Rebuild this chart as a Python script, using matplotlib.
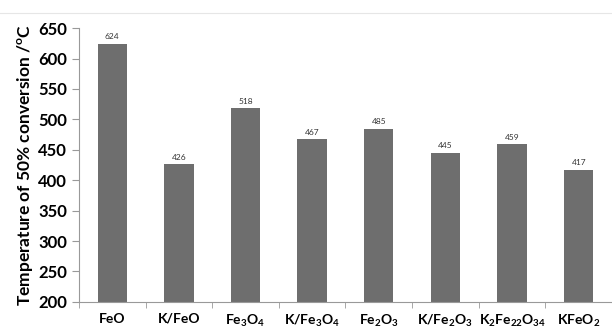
import numpy as np
import matplotlib
matplotlib.use('Agg')
import matplotlib.pyplot as plt
from matplotlib.ticker import FixedLocator
from matplotlib.lines import Line2D

plt.rcParams['font.family'] = ['Lato', 'DejaVu Sans']
plt.rcParams['mathtext.fontset'] = 'custom'
plt.rcParams['mathtext.rm'] = 'Lato:bold'
plt.rcParams['mathtext.it'] = 'Lato:bold'
plt.rcParams['mathtext.bf'] = 'Lato:bold'

catalysts = ['FeO', 'K/FeO', r'Fe$_3$O$_4$', r'K/Fe$_3$O$_4$', r'Fe$_2$O$_3$',
             r'K/Fe$_2$O$_3$', r'K$_2$Fe$_{22}$O$_{34}$', r'KFeO$_2$']
temps = [624, 426, 518, 467, 485, 445, 459, 417]
yticks = [200, 250, 300, 350, 400, 450, 500, 550, 600, 650]

fig = plt.figure(figsize=(6.12, 3.31), dpi=100)
ax = fig.add_axes([0.129, 0.088, 0.871, 0.827])

x = np.arange(len(catalysts))
ax.bar(x, temps, width=0.44, color='#6e6e6e', zorder=2)
for xi, t in zip(x, temps):
    ax.text(xi, t + 6, str(t), ha='center', va='bottom', fontsize=6, color='#333333')

ax.set_xlim(-0.5, len(catalysts) - 0.5)
ax.set_ylim(200, 650)
ax.set_yticks(yticks)
ax.set_xticks(x)
ax.set_xticklabels(catalysts, fontsize=10, fontweight='bold')
ax.xaxis.set_minor_locator(FixedLocator(np.arange(-0.5, len(catalysts), 1)))
ax.tick_params(axis='x', which='major', length=0, pad=8)
ax.tick_params(axis='x', which='minor', length=4, color='#999999')
ax.tick_params(axis='y', length=5, color='#999999', labelsize=12)
for lab in ax.get_yticklabels():
    lab.set_fontweight('bold')
ax.set_ylabel('Temperature of 50% conversion /$^o$C', fontsize=12.5, fontweight='bold', labelpad=2)

for s in ['top', 'right']:
    ax.spines[s].set_visible(False)
for s in ['left', 'bottom']:
    ax.spines[s].set_color('#999999')

# faint frame line at the top of the picture
fig.add_artist(Line2D([0.0, 1.0], [0.962, 0.962], color='#e6e6e6', lw=0.8))

fig.savefig('out.png', dpi=100)
